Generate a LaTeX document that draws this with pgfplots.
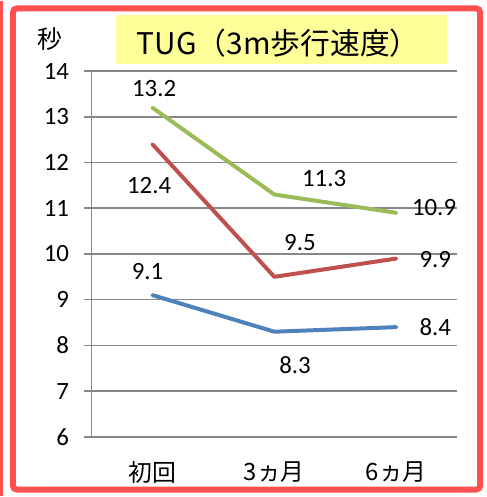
\documentclass[border=0pt]{standalone}
\usepackage{pgfplots}
\pgfplotsset{compat=1.18}
\usepackage{fontspec}
\setmainfont{Carlito}
\newfontfamily\jp{Noto Sans CJK JP}
\definecolor{gridc}{HTML}{878787}
\definecolor{bordc}{HTML}{FF5050}
\definecolor{gr}{HTML}{9BBB59}
\definecolor{rd}{HTML}{C0504D}
\definecolor{bl}{HTML}{4F81BD}
\definecolor{yel}{HTML}{FFFF99}
\begin{document}
\begin{tikzpicture}[x=1pt,y=1pt]
\fill[white] (0,0) rectangle (489,497);
\draw[bordc, line width=3pt] (1.5,0) -- (1.5,497);
\draw[bordc, line width=6pt, rounded corners=4pt] (13,6) rectangle (483,490);
\fill[yel] (117,434) rectangle (450,483);
\node[font=\jp\fontsize{30}{34}\selectfont] at (280,455) {TUG（3m歩行速度）};
\node[font=\jp\fontsize{25}{28}\selectfont] at (50,459) {秒};
\begin{axis}[
  at={(92pt,59pt)}, anchor=south west,
  scale only axis, width=368pt, height=368pt,
  xmin=-0.5, xmax=2.5, ymin=6, ymax=14,
  axis x line*=bottom, axis y line*=left,
  axis line style={gridc, line width=1.5pt},
  xtick={0,1,2},
  xticklabels={初回,3ヵ月,6ヵ月},
  x tick label style={font=\jp\fontsize{24}{26}\selectfont, yshift=-14pt},
  x tick style={draw=none},
  extra x ticks={-0.5,0.5,1.5,2.5},
  extra x tick labels={},
  extra x tick style={tick style={gridc, line width=1.5pt, draw=gridc}, tick align=outside, major tick length=8pt, grid=none},
  ytick={6,...,14},
  y tick label style={font=\fontsize{25}{28}\selectfont, xshift=-12pt},
  /pgf/number format/assume math mode=true,
  ymajorgrids, major grid style={gridc, line width=1.5pt},
  tick align=outside, major tick length=7pt,
  y tick style={gridc, line width=1.5pt},
  clip=false,
]
\addplot[gr, line width=4pt, line join=round, line cap=round] coordinates {(0,13.2) (1,11.3) (2,10.9)};
\addplot[rd, line width=4pt, line join=round, line cap=round] coordinates {(0,12.4) (1,9.5) (2,9.9)};
\addplot[bl, line width=4pt, line join=round, line cap=round] coordinates {(0,9.1) (1,8.3) (2,8.4)};
\begin{scope}[every node/.style={font=\fontsize{25}{28}\selectfont}]
\node at (axis cs:0.014,13.61) {13.2};
\node at (axis cs:1.408,11.65) {11.3};
\node at (axis cs:2.31,11.02) {10.9};
\node at (axis cs:-0.027,11.5) {12.4};
\node at (axis cs:1.21,10.24) {9.5};
\node at (axis cs:2.32,9.87) {9.9};
\node at (axis cs:-0.04,9.61) {9.1};
\node at (axis cs:1.17,7.57) {8.3};
\node at (axis cs:2.32,8.39) {8.4};
\end{scope}
\end{axis}
\end{tikzpicture}
\end{document}
